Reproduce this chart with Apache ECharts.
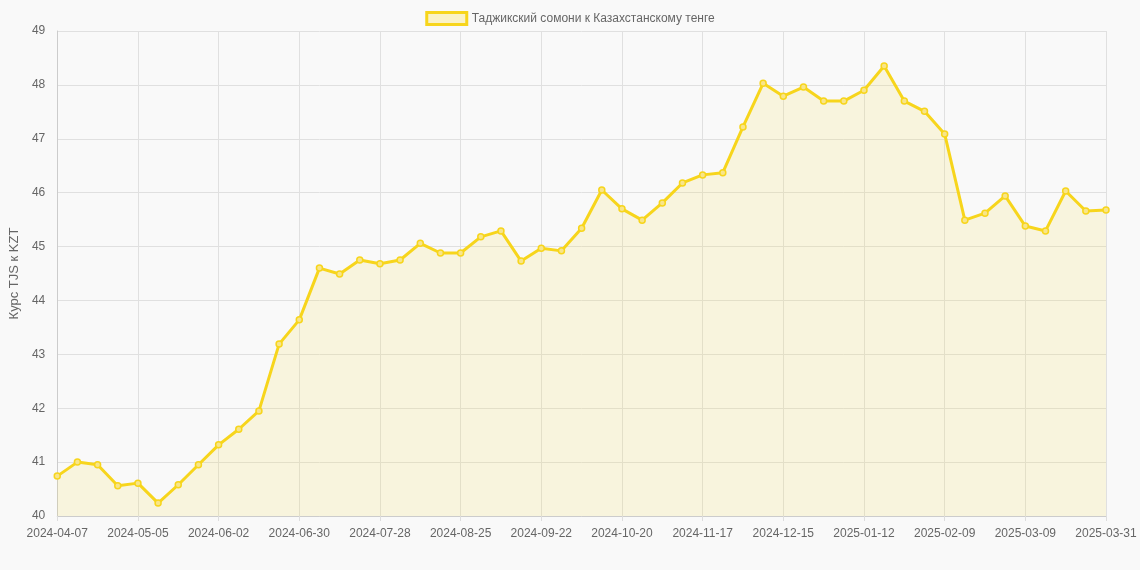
<!DOCTYPE html>
<html><head><meta charset="utf-8">
<script src="https://cdn.jsdelivr.net/npm/echarts@6/dist/echarts.min.js"></script>
<style>html,body{margin:0;padding:0;background:#f9f9f9}#c{width:1140px;height:570px}</style>
</head><body><div id="c"></div>
<script>
const seriesName = 'Таджикский сомони к Казахстанскому тенге';
const yAxisName = 'Курс TJS к KZT';
const dates = ['2024-04-07','2024-04-14','2024-04-21','2024-04-28','2024-05-05','2024-05-12','2024-05-19','2024-05-26','2024-06-02','2024-06-09','2024-06-16','2024-06-23','2024-06-30','2024-07-07','2024-07-14','2024-07-21','2024-07-28','2024-08-04','2024-08-11','2024-08-18','2024-08-25','2024-09-01','2024-09-08','2024-09-15','2024-09-22','2024-09-29','2024-10-06','2024-10-13','2024-10-20','2024-10-27','2024-11-03','2024-11-10','2024-11-17','2024-11-24','2024-12-01','2024-12-08','2024-12-15','2024-12-22','2024-12-29','2025-01-05','2025-01-12','2025-01-19','2025-01-26','2025-02-02','2025-02-09','2025-02-16','2025-02-23','2025-03-02','2025-03-09','2025-03-16','2025-03-23','2025-03-30','2025-03-31'];
const rates = [40.74,41.0,40.95,40.56,40.61,40.24,40.58,40.95,41.32,41.61,41.95,43.19,43.64,44.6,44.49,44.75,44.68,44.75,45.06,44.88,44.88,45.18,45.29,44.73,44.97,44.92,45.34,46.05,45.7,45.49,45.81,46.18,46.33,46.37,47.22,48.03,47.79,47.96,47.7,47.7,47.9,48.35,47.7,47.51,47.09,45.49,45.62,45.94,45.38,45.29,46.03,45.66,45.68];
const chart = echarts.init(document.getElementById('c'));
chart.setOption({
  backgroundColor:'#f9f9f9',
  legend:{top:6,left:'center',itemWidth:40,itemHeight:12,textStyle:{color:'#666',fontSize:12,fontFamily:'Arial'},
    data:[{name:seriesName,icon:'rect',itemStyle:{color:'rgba(255,215,0,0.2)',borderColor:'#f7d51c',borderWidth:3}}]},
  grid:{left:52,right:34,top:31,bottom:54},
  xAxis:{type:'category',data:dates,boundaryGap:false,
    axisLine:{lineStyle:{color:'#ccc'}},axisTick:{show:true,interval:3,lineStyle:{color:'#ddd'}},
    axisLabel:{interval:3,color:'#666',fontSize:12,fontFamily:'Arial',margin:12},
    splitLine:{show:true,interval:3,lineStyle:{color:'#e0e0e0'}}},
  yAxis:{type:'value',min:40,max:49,interval:1,name:yAxisName,nameLocation:'middle',nameGap:36,
    nameTextStyle:{color:'#666',fontSize:13,fontFamily:'Arial'},
    axisLine:{show:true,lineStyle:{color:'#ccc'}},axisTick:{show:false},
    axisLabel:{color:'#666',fontSize:12,fontFamily:'Arial',margin:12},
    splitLine:{lineStyle:{color:'#e0e0e0'}}},
  series:[{name:seriesName,type:'line',data:rates,symbol:'circle',symbolSize:6,
    lineStyle:{color:'#f7d51c',width:3},
    itemStyle:{color:'#f8e58a',borderColor:'#f7d51c',borderWidth:1.5},
    areaStyle:{color:'rgba(245,222,60,0.2)'}}]
});
</script></body></html>
